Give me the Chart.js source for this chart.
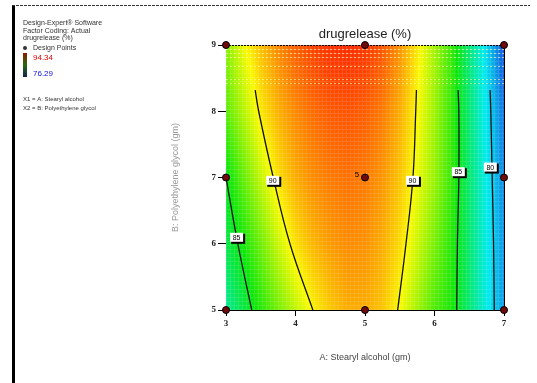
<!DOCTYPE html>
<html>
<head>
<meta charset="utf-8">
<script src="https://cdn.jsdelivr.net/npm/chart.js@4.4.0/dist/chart.umd.min.js"></script>
<style>
  html, body { margin: 0; padding: 0; background: #fff; }
  #wrap { width: 537px; height: 383px; }
</style>
</head>
<body>
<div id="wrap"><canvas id="rsm"></canvas></div>
<script>
// response surface: rows at B = 5..9, columns at A = 3..7
var xGrid = [3, 3.25, 3.5, 3.75, 4, 4.25, 4.5, 4.75, 5, 5.25, 5.5, 5.75, 6, 6.25, 6.5, 6.75, 7];
var yGrid = [5, 6, 7, 8, 9];
var resp5 = [82.5, 84.2, 85.8, 87.3, 88.7, 90.0, 90.9, 91.5, 91.5, 91.0, 89.8, 88.2, 86.6, 85.6, 83.3, 81.0, 78.6];
var resp6 = [84.1, 85.5, 87.2, 88.9, 90.4, 91.3, 91.9, 92.2, 92.1, 91.5, 90.5, 89.0, 87.4, 85.8, 83.4, 81.0, 78.4];
var resp7 = [85.0, 87.0, 88.8, 90.4, 91.5, 92.2, 92.6, 92.8, 92.6, 92.0, 91.0, 89.6, 88.0, 86.1, 83.4, 80.9, 78.0];
var resp8 = [86.8, 88.5, 90.2, 91.4, 92.3, 92.9, 93.3, 93.4, 93.2, 92.6, 91.5, 89.9, 88.1, 86.1, 83.3, 80.6, 77.5];
var resp9 = [87.6, 89.6, 91.1, 92.3, 93.2, 93.8, 94.2, 94.3, 94.1, 93.4, 92.1, 90.2, 88.2, 86.1, 83.2, 80.3, 76.5];
var respRows = [resp5, resp6, resp7, resp8, resp9];
var respMin = 76.29, respMax = 94.34;

// contour lines
var c85Left  = [{x: 3.37, y: 5}, {x: 3.17, y: 6}, {x: 3.0, y: 7}];
var c90Left  = [{x: 4.25, y: 5}, {x: 3.92, y: 6}, {x: 3.68, y: 7}, {x: 3.47, y: 8}, {x: 3.42, y: 8.32}];
var c90Right = [{x: 5.47, y: 5}, {x: 5.59, y: 6}, {x: 5.69, y: 7}, {x: 5.73, y: 8}, {x: 5.74, y: 8.32}];
var c85Right = [{x: 6.32, y: 5}, {x: 6.33, y: 6}, {x: 6.35, y: 7}, {x: 6.35, y: 8}, {x: 6.34, y: 8.32}];
var c80Right = [{x: 6.86, y: 5}, {x: 6.85, y: 6}, {x: 6.83, y: 7}, {x: 6.81, y: 8}, {x: 6.80, y: 8.32}];
var contourTags = [
  {x: 3.68, y: 6.95, t: '90'}, {x: 5.69, y: 6.95, t: '90'},
  {x: 6.35, y: 7.08, t: '85'}, {x: 6.81, y: 7.15, t: '80'}, {x: 3.16, y: 6.09, t: '85'}
];

// design points (centre point has 5 replicates)
var designPts = [
  {x: 3, y: 5}, {x: 5, y: 5}, {x: 7, y: 5},
  {x: 3, y: 7}, {x: 5, y: 7}, {x: 7, y: 7},
  {x: 3, y: 9}, {x: 5, y: 9}, {x: 7, y: 9}
];
var designReps = [0, 0, 0, 0, 5, 0, 0, 0, 0];

var xTicks = [3, 4, 5, 6, 7];
var yTicks = [5, 6, 7, 8, 9];

function sample(vx, vy) {
  var i = 0, j = 0;
  while (i < xGrid.length - 2 && vx > xGrid[i + 1]) i++;
  while (j < yGrid.length - 2 && vy > yGrid[j + 1]) j++;
  var fx = Math.min(1, Math.max(0, (vx - xGrid[i]) / (xGrid[i + 1] - xGrid[i])));
  var fy = Math.min(1, Math.max(0, (vy - yGrid[j]) / (yGrid[j + 1] - yGrid[j])));
  var a = respRows[j][i] * (1 - fx) + respRows[j][i + 1] * fx;
  var b = respRows[j + 1][i] * (1 - fx) + respRows[j + 1][i + 1] * fx;
  return a * (1 - fy) + b * fy;
}

var stops = [[0, 20, 70, 220], [0.25, 0, 235, 240], [0.5, 10, 230, 10], [0.75, 250, 250, 0], [1, 255, 40, 0]];
function colour(v) {
  var t = Math.min(1, Math.max(0, (v - respMin) / (respMax - respMin)));
  for (var k = 0; k < stops.length - 1; k++) {
    if (t <= stops[k + 1][0]) {
      var f = (t - stops[k][0]) / (stops[k + 1][0] - stops[k][0]);
      return [0, 1, 2].map(function (c) { return stops[k][c + 1] + (stops[k + 1][c + 1] - stops[k][c + 1]) * f; });
    }
  }
  return stops[stops.length - 1].slice(1);
}

var heatmap = {
  id: 'heatmap',
  beforeDatasetsDraw: function (chart) {
    var ctx = chart.ctx, a = chart.chartArea, sx = chart.scales.x, sy = chart.scales.y;
    var l = Math.round(a.left), t = Math.round(a.top);
    var w = Math.round(a.right) - l, h = Math.round(a.bottom) - t;
    var img = ctx.createImageData(w, h);
    for (var py = 0; py < h; py++) {
      var vy = sy.getValueForPixel(t + py + 0.5);
      for (var px = 0; px < w; px++) {
        var c = colour(sample(sx.getValueForPixel(l + px + 0.5), vy));
        if (px % 4 === 0 || py % 4 === 0) c = c.map(function (q) { return q + (255 - q) * 0.12; });
        var o = (py * w + px) * 4;
        img.data[o] = c[0]; img.data[o + 1] = c[1]; img.data[o + 2] = c[2]; img.data[o + 3] = 255;
      }
    }
    ctx.putImageData(img, l, t);
    // dotted band along the top edge
    ctx.save();
    ctx.strokeStyle = 'rgba(255,255,170,0.6)';
    ctx.lineWidth = 1;
    ctx.setLineDash([2, 2]);
    [4, 8, 12, 21, 34, 38].forEach(function (d) {
      ctx.beginPath(); ctx.moveTo(l, t + d + 0.5); ctx.lineTo(l + w, t + d + 0.5); ctx.stroke();
    });
    ctx.restore();
  },
  afterDatasetsDraw: function (chart) {
    var ctx = chart.ctx, a = chart.chartArea, sx = chart.scales.x, sy = chart.scales.y;
    ctx.save();
    ctx.strokeStyle = '#000';
    ctx.lineWidth = 1;
    ctx.beginPath(); ctx.moveTo(a.right + 0.5, a.top); ctx.lineTo(a.right + 0.5, a.bottom); ctx.stroke();
    ctx.setLineDash([2, 1]);
    ctx.beginPath(); ctx.moveTo(a.left, a.top + 0.5); ctx.lineTo(a.right, a.top + 0.5); ctx.stroke();
    ctx.setLineDash([]);
    ctx.font = '7px "Liberation Sans", Arial, sans-serif';
    ctx.textAlign = 'center';
    ctx.textBaseline = 'middle';
    contourTags.forEach(function (p) {
      var x = sx.getPixelForValue(p.x), y = sy.getPixelForValue(p.y);
      ctx.fillStyle = '#000';
      ctx.fillRect(x - 6, y - 4, 14, 10);
      ctx.fillStyle = '#fff';
      ctx.fillRect(x - 7, y - 5, 13, 9);
      ctx.fillStyle = '#000';
      ctx.fillText(p.t, x - 0.5, y);
    });
    ctx.font = '8px "Liberation Sans", Arial, sans-serif';
    designPts.forEach(function (p, k) {
      if (!designReps[k]) return;
      ctx.fillText(String(designReps[k]), sx.getPixelForValue(p.x) - 8, sy.getPixelForValue(p.y) - 3);
    });
    // design points drawn last so they sit on the frame
    designPts.forEach(function (p) {
      ctx.beginPath();
      ctx.arc(sx.getPixelForValue(p.x), sy.getPixelForValue(p.y), 3.5, 0, Math.PI * 2);
      ctx.fillStyle = '#6e0a0a';
      ctx.fill();
      ctx.strokeStyle = '#000';
      ctx.lineWidth = 1;
      ctx.stroke();
    });
    ctx.restore();
  }
};

var panel = {
  id: 'panel',
  afterDraw: function (chart) {
    var ctx = chart.ctx, a = chart.chartArea;
    ctx.save();
    ctx.fillStyle = '#000';
    ctx.fillRect(12, 5, 3, 378);
    ctx.strokeStyle = '#333';
    ctx.setLineDash([3, 1]);
    ctx.beginPath(); ctx.moveTo(12, 5.5); ctx.lineTo(530, 5.5); ctx.stroke();
    ctx.setLineDash([]);
    ctx.font = '13px "Liberation Sans", Arial, sans-serif';
    ctx.fillStyle = '#222';
    ctx.textAlign = 'center';
    ctx.textBaseline = 'middle';
    ctx.fillText('drugrelease (%)', (a.left + a.right) / 2, 34);
    ctx.textAlign = 'left';
    ctx.font = '7px "Liberation Sans", Arial, sans-serif';
    ctx.fillStyle = '#333';
    ctx.fillText('Design-Expert\u00ae Software', 23, 23);
    ctx.fillText('Factor Coding: Actual', 23, 31);
    ctx.fillText('drugrelease (%)', 23, 38);
    ctx.fillText('Design Points', 33, 48);
    ctx.beginPath(); ctx.arc(25, 48, 2, 0, Math.PI * 2); ctx.fill();
    var g = ctx.createLinearGradient(0, 53, 0, 77);
    g.addColorStop(0, '#8a1a00'); g.addColorStop(0.5, '#2a6a10'); g.addColorStop(1, '#102050');
    ctx.fillStyle = g;
    ctx.fillRect(23, 53, 4, 24);
    ctx.font = '8px "Liberation Sans", Arial, sans-serif';
    ctx.fillStyle = '#e00000';
    ctx.fillText(respMax.toFixed(2), 33, 58);
    ctx.fillStyle = '#1010e0';
    ctx.fillText(respMin.toFixed(2), 33, 74);
    ctx.font = '6px "Liberation Sans", Arial, sans-serif';
    ctx.fillStyle = '#333';
    ctx.fillText('X1 = A: Stearyl alcohol', 23, 99);
    ctx.fillText('X2 = B: Polyethylene glycol', 23, 108);
    ctx.restore();
  }
};

function contourSet(pts) {
  return {
    type: 'line', data: pts, borderColor: '#111', borderWidth: 1.3,
    pointRadius: 0, tension: 0.4, fill: false
  };
}

new Chart(document.getElementById('rsm'), {
  type: 'scatter',
  data: {
    datasets: [
      contourSet(c85Left), contourSet(c90Left), contourSet(c90Right), contourSet(c85Right), contourSet(c80Right)
    ]
  },
  options: {
    responsive: true,
    maintainAspectRatio: false,
    animation: false,
    layout: { padding: { left: 160, right: 33, top: 45, bottom: 20 } },
    plugins: { legend: { display: false }, tooltip: { enabled: false }, title: { display: false } },
    scales: {
      x: {
        type: 'linear', min: 3, max: 7,
        afterFit: function (s) { s.height = 53; },
        afterBuildTicks: function (s) { s.ticks = xTicks.map(function (v) { return {value: v}; }); },
        ticks: { color: '#222', padding: 2, font: { family: '"Liberation Serif", serif', size: 9, weight: 'bold' } },
        grid: { drawOnChartArea: false, drawTicks: true, tickLength: 6, color: '#000' },
        border: { display: true, color: '#000', width: 1 },
        title: {
          display: true, text: 'A: Stearyl alcohol (gm)', color: '#444',
          font: { family: '"Liberation Sans", Arial, sans-serif', size: 9 }, padding: { top: 0, bottom: 0 }
        }
      },
      y: {
        type: 'linear', min: 5, max: 9,
        afterFit: function (s) { s.width = 66; },
        afterBuildTicks: function (s) { s.ticks = yTicks.map(function (v) { return {value: v}; }); },
        ticks: { color: '#222', padding: 2, font: { family: '"Liberation Serif", serif', size: 9, weight: 'bold' } },
        grid: { drawOnChartArea: false, drawTicks: true, tickLength: 8, color: '#000' },
        border: { display: true, color: '#000', width: 1 },
        title: {
          display: true, text: 'B: Polyethylene glycol (gm)', color: '#999',
          font: { family: '"Liberation Sans", Arial, sans-serif', size: 9 }, padding: { top: 10, bottom: 0 }
        }
      }
    }
  },
  plugins: [heatmap, panel]
});
</script>
</body>
</html>
